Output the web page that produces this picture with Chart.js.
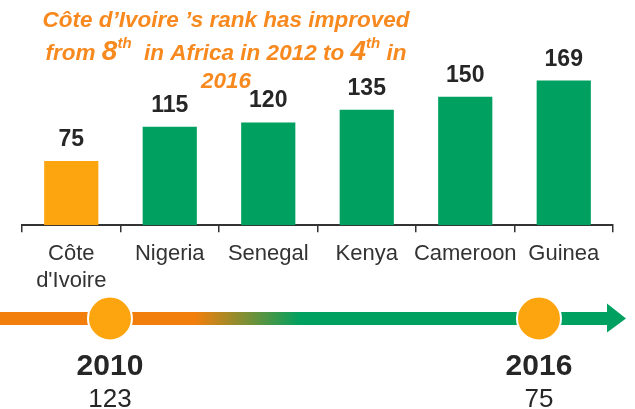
<!DOCTYPE html>
<html>
<head>
<meta charset="utf-8">
<script src="https://cdn.jsdelivr.net/npm/chart.js@4.4.1/dist/chart.umd.min.js"></script>
<style>
  html, body { margin: 0; padding: 0; background: #ffffff; }
  #wrap { position: relative; width: 635px; height: 409px; overflow: hidden; }
  #c1 { position: absolute; left: 0; top: 0; }
  #c2 { position: absolute; left: 0; top: 290px; }
</style>
</head>
<body>
<div id="wrap">
  <canvas id="c1" width="635" height="303"></canvas>
  <canvas id="c2" width="635" height="119"></canvas>
</div>
<script>
// ---- data ----
const categories = [['Côte', "d'Ivoire"], 'Nigeria', 'Senegal', 'Kenya', 'Cameroon', 'Guinea'];
const ranks = [75, 115, 120, 135, 150, 169];
const highlightIndex = 0;
const timelineYears = [2010, 2016];
const timelineRanks = [123, 75];

const ORANGE_BAR = '#FDA50F';
const GREEN = '#00A060';
const TITLE_ORANGE = '#F7891E';
const SHAFT_ORANGE = '#F27F0C';
const TEXT_DARK = '#262626';
const FONT = "'Liberation Sans', Arial, sans-serif";

// ---- plugins ----
const valueLabels = {
  id: 'valueLabels',
  afterDatasetsDraw(chart) {
    const ctx = chart.ctx;
    const meta = chart.getDatasetMeta(0);
    ctx.save();
    ctx.font = 'bold 23px ' + FONT;
    ctx.fillStyle = TEXT_DARK;
    ctx.textAlign = 'center';
    ctx.textBaseline = 'alphabetic';
    meta.data.forEach((bar, i) => {
      ctx.fillText(String(chart.data.datasets[0].data[i]), bar.x, bar.y - 15);
    });
    ctx.restore();
  }
};

const titlePlugin = {
  id: 'richTitle',
  afterDraw(chart) {
    const ctx = chart.ctx;
    const cx = 226;
    const normal = 'italic bold 22.5px ' + FONT;
    const big = 'italic bold 28px ' + FONT;
    const sup = 'italic bold 15px ' + FONT;
    const lines = [
      { y: 27, segs: [[normal, "Côte d’Ivoire ’s rank has improved", 0]] },
      { y: 60, segs: [[normal, 'from ', 0], [big, '8', 0], [sup, 'th', -12], [normal, '  in Africa in 2012 to ', 0], [big, '4', 0], [sup, 'th', -12], [normal, ' in', 0]] },
      { y: 88, segs: [[normal, '2016', 0]] }
    ];
    ctx.save();
    ctx.fillStyle = TITLE_ORANGE;
    ctx.textBaseline = 'alphabetic';
    ctx.textAlign = 'left';
    lines.forEach(line => {
      let w = 0;
      line.segs.forEach(s => { ctx.font = s[0]; w += ctx.measureText(s[1]).width; });
      let x = cx - w / 2;
      line.segs.forEach(s => {
        ctx.font = s[0];
        ctx.fillText(s[1], x, line.y + s[2]);
        x += ctx.measureText(s[1]).width;
      });
    });
    ctx.restore();
  }
};

new Chart(document.getElementById('c1'), {
  type: 'bar',
  data: {
    labels: categories,
    datasets: [{
      data: ranks,
      backgroundColor: c => c.dataIndex === highlightIndex ? ORANGE_BAR : GREEN,
      borderWidth: 0,
      barPercentage: 0.55,
      categoryPercentage: 1.0
    }]
  },
  options: {
    responsive: false,
    animation: false,
    devicePixelRatio: 1,
    layout: { padding: { top: 54, left: 22, right: 22, bottom: 0 } },
    plugins: { legend: { display: false }, tooltip: { enabled: false }, title: { display: false } },
    scales: {
      y: { display: false, min: 0, max: 200 },
      x: {
        grid: { display: true, offset: true, drawOnChartArea: false, drawTicks: true, tickLength: 7, color: '#333333', lineWidth: 1.5 },
        border: { display: true, color: '#333333', width: 2 },
        ticks: { font: { family: FONT, size: 22, lineHeight: 1.2 }, color: '#333333', padding: 9, maxRotation: 0, autoSkip: false }
      }
    }
  },
  plugins: [valueLabels, titlePlugin]
});

// ---- timeline chart ----
const timelineDecor = {
  id: 'timelineDecor',
  beforeDatasetsDraw(chart) {
    const ctx = chart.ctx;
    const yc = chart.scales.y.getPixelForValue(0);
    const W = chart.width;
    const g = ctx.createLinearGradient(0, 0, W, 0);
    g.addColorStop(0, SHAFT_ORANGE);
    g.addColorStop(195 / W, SHAFT_ORANGE);
    g.addColorStop(300 / W, GREEN);
    g.addColorStop(1, GREEN);
    ctx.save();
    ctx.fillStyle = g;
    ctx.fillRect(0, yc - 6.5, 608, 13);
    ctx.fillStyle = GREEN;
    ctx.beginPath();
    ctx.moveTo(607, yc - 15);
    ctx.lineTo(626, yc);
    ctx.lineTo(607, yc + 14);
    ctx.closePath();
    ctx.fill();
    ctx.restore();
  },
  afterDatasetsDraw(chart) {
    const ctx = chart.ctx;
    const meta = chart.getDatasetMeta(0);
    ctx.save();
    ctx.fillStyle = TEXT_DARK;
    ctx.textAlign = 'center';
    ctx.textBaseline = 'alphabetic';
    meta.data.forEach((pt, i) => {
      ctx.font = 'bold 30px ' + FONT;
      ctx.fillText(String(timelineYears[i]), pt.x, 85);
      ctx.font = '26px ' + FONT;
      ctx.fillText(String(timelineRanks[i]), pt.x, 117);
    });
    ctx.restore();
  }
};

new Chart(document.getElementById('c2'), {
  type: 'scatter',
  data: {
    datasets: [{
      data: timelineYears.map(y => ({ x: y, y: 0 })),
      pointRadius: 22,
      pointBackgroundColor: ORANGE_BAR,
      pointBorderColor: '#ffffff',
      pointBorderWidth: 2,
      clip: false
    }]
  },
  options: {
    responsive: false,
    animation: false,
    devicePixelRatio: 1,
    layout: { autoPadding: false, padding: { top: 0, left: 0, right: 0, bottom: 62 } },
    plugins: { legend: { display: false }, tooltip: { enabled: false } },
    scales: {
      x: { display: false, type: 'linear', min: 2008.462, max: 2017.343 },
      y: { display: false, min: -1, max: 1 }
    }
  },
  plugins: [timelineDecor]
});
</script>
</body>
</html>
